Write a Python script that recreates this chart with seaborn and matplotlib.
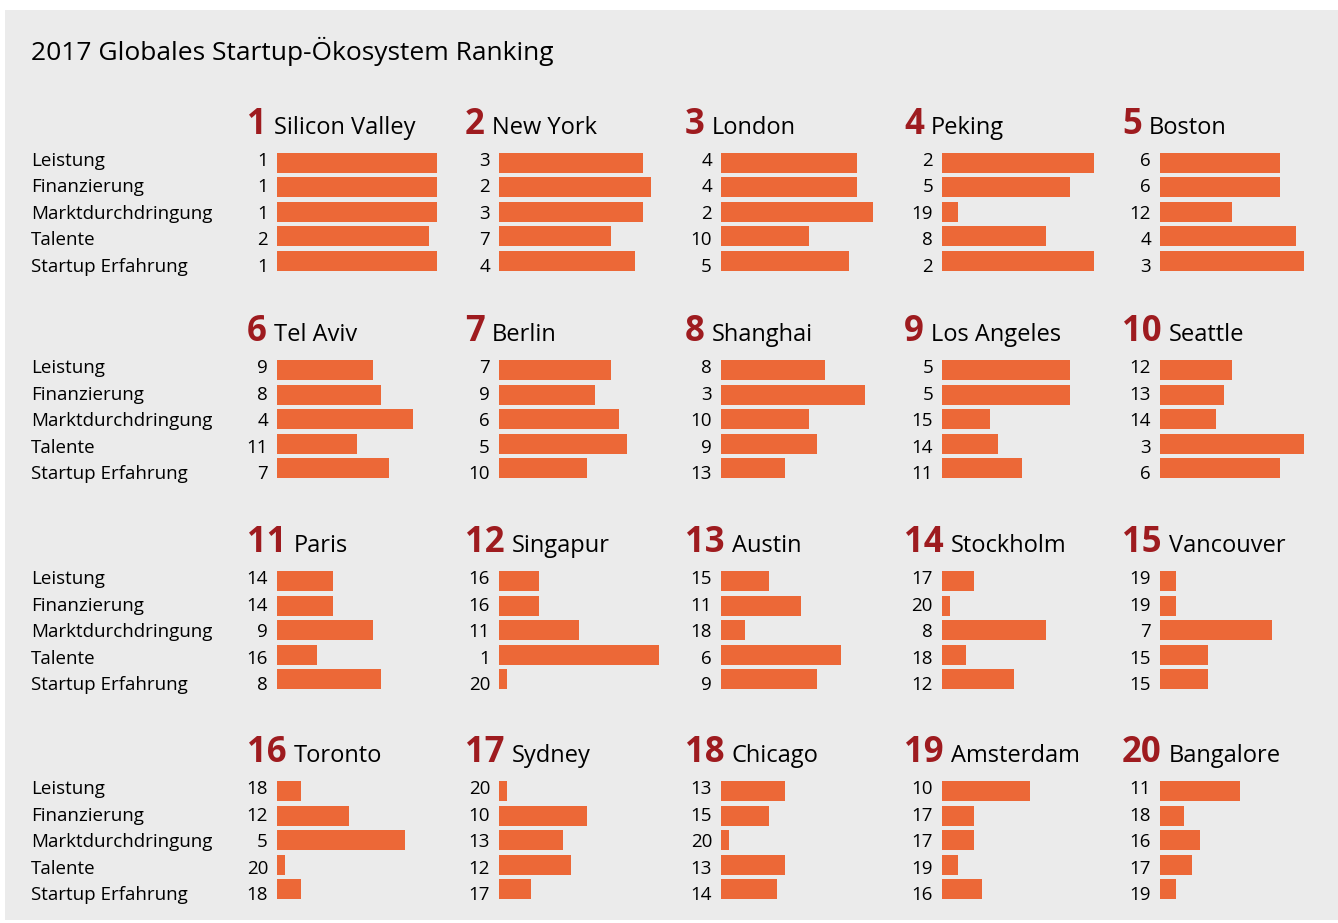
import matplotlib
matplotlib.use("Agg")
import matplotlib.pyplot as plt
import matplotlib.patches as mpatches
import seaborn as sns

# data: rank per city and category (1 = best)
categories = ["Leistung", "Finanzierung", "Marktdurchdringung", "Talente", "Startup Erfahrung"]
cities = ["Silicon Valley", "New York", "London", "Peking", "Boston",
          "Tel Aviv", "Berlin", "Shanghai", "Los Angeles", "Seattle",
          "Paris", "Singapur", "Austin", "Stockholm", "Vancouver",
          "Toronto", "Sydney", "Chicago", "Amsterdam", "Bangalore"]
ranks = [
    [1, 1, 1, 2, 1],
    [3, 2, 3, 7, 4],
    [4, 4, 2, 10, 5],
    [2, 5, 19, 8, 2],
    [6, 6, 12, 4, 3],
    [9, 8, 4, 11, 7],
    [7, 9, 6, 5, 10],
    [8, 3, 10, 9, 13],
    [5, 5, 15, 14, 11],
    [12, 13, 14, 3, 6],
    [14, 14, 9, 16, 8],
    [16, 16, 11, 1, 20],
    [15, 11, 18, 6, 9],
    [17, 20, 8, 18, 12],
    [19, 19, 7, 15, 15],
    [18, 12, 5, 20, 18],
    [20, 10, 13, 12, 17],
    [13, 15, 20, 13, 14],
    [10, 17, 17, 19, 16],
    [11, 18, 16, 17, 19],
]
n_ranks = 20
title = "2017 Globales Startup-Ökosystem Ranking"

# colours
bg = "#ebebeb"
bar_color = "#ec6837"
num_color = "#9e1b1f"
txt_color = "#000000"

sns.set_theme(style="white")
plt.rcParams["font.family"] = ["Open Sans", "DejaVu Sans"]

W, H = 1338, 923
fig = plt.figure(figsize=(W / 100, H / 100), dpi=100)
fig.patch.set_facecolor("white")
fig.patches.append(mpatches.Rectangle((5 / W, 1 - 920 / H), (W - 5) / W, 910 / H,
                                      transform=fig.transFigure, facecolor=bg,
                                      edgecolor="none", zorder=-10))

def fx(px):
    return px / W

def fy(py):
    return 1 - py / H

# layout in pixels
bar_x = [277, 499, 721, 942, 1160]
head_x = [247, 465, 685, 904, 1122]
row_c0 = [162.5, 370, 581, 791]
step = 24.6       # bar spacing
lab_step = 26.6   # text row spacing
bar_len = 160

fig.text(fx(31), fy(60), title, fontsize=19, color=txt_color, va="baseline", ha="left")

renderer = fig.canvas.get_renderer()

for i, city in enumerate(cities):
    r, c = divmod(i, 5)
    top = row_c0[r] - step / 2
    ax = fig.add_axes([fx(bar_x[c]), fy(top + 5 * step), bar_len / W, 5 * step / H])
    vals = [n_ranks + 1 - v for v in ranks[i]]
    sns.barplot(x=vals, y=categories, orient="h", ax=ax, color=bar_color,
                saturation=1, width=20 / step, linewidth=0)
    ax.set_xlim(0, n_ranks)
    ax.set_ylim(4.5, -0.5)
    ax.axis("off")
    # rank numbers left of the bars
    for j, v in enumerate(ranks[i]):
        fig.text(fx(bar_x[c] - 9), fy(row_c0[r] + 3 + j * lab_step), str(v),
                 fontsize=13.5, color=txt_color, ha="right", va="baseline")
    # header: big rank number + city name
    base = row_c0[r] - 10 - 19
    t = fig.text(fx(head_x[c]), fy(base), str(i + 1), fontsize=25, fontweight="bold",
                 color=num_color, ha="left", va="baseline")
    bb = t.get_window_extent(renderer)
    fig.text(bb.x1 / W + 7 / W, fy(base), city, fontsize=17, color=txt_color,
             ha="left", va="baseline")

# row labels on the left
for r in range(4):
    for j, cat in enumerate(categories):
        fig.text(fx(31), fy(row_c0[r] + 3 + j * lab_step), cat, fontsize=13.5,
                 color=txt_color, ha="left", va="baseline")

fig.savefig("out.png", dpi=100, facecolor=fig.get_facecolor())
